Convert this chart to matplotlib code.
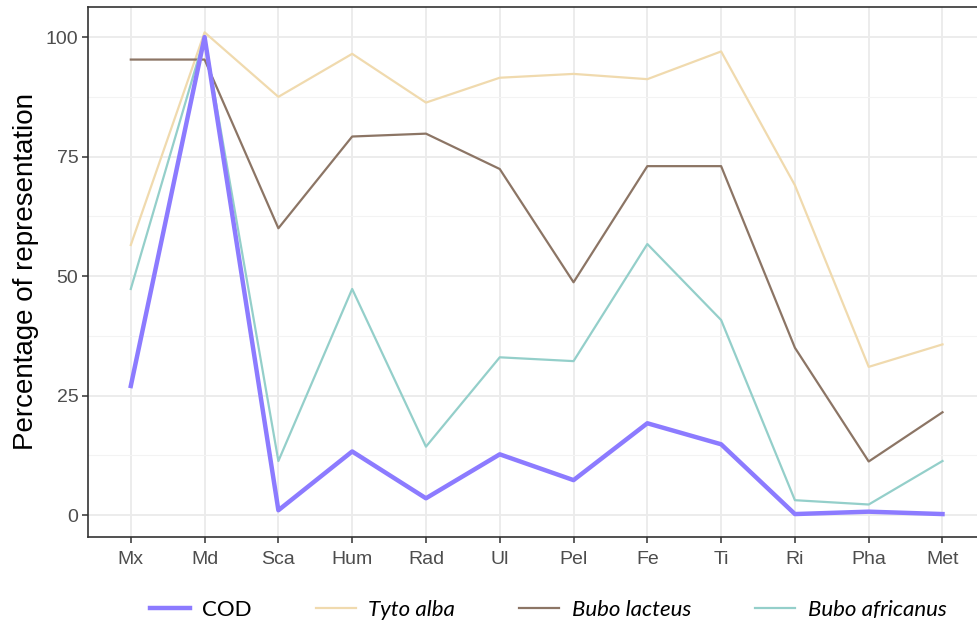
import matplotlib
matplotlib.use("Agg")
import matplotlib.pyplot as plt
from matplotlib.lines import Line2D

categories = ["Mx", "Md", "Sca", "Hum", "Rad", "Ul", "Pel", "Fe", "Ti", "Ri", "Pha", "Met"]
cod = [27.0, 100.0, 1.0, 13.3, 3.5, 12.7, 7.3, 19.2, 14.8, 0.2, 0.7, 0.2]
tyto_alba = [56.5, 101.0, 87.5, 96.5, 86.3, 91.5, 92.3, 91.2, 97.0, 69.0, 31.0, 35.7]
bubo_lacteus = [95.3, 95.3, 60.0, 79.2, 79.8, 72.4, 48.7, 73.0, 73.0, 35.0, 11.2, 21.5]
bubo_africanus = [47.3, 100.0, 11.3, 47.3, 14.3, 33.0, 32.2, 56.7, 40.8, 3.1, 2.2, 11.3]
y_ticks = [0, 25, 50, 75, 100]

c_cod = "#8C7BFF"
c_tyto = "#F0DAAE"
c_lact = "#8C7565"
c_afr = "#94CFCA"

plt.rcParams["font.family"] = ["Liberation Sans", "DejaVu Sans"]

W, H = 977, 625
fig = plt.figure(figsize=(W / 100, H / 100), dpi=100)
ax = fig.add_axes([88 / W, (H - 537) / H, 1 - 88 / W + 0.01, (537 - 7) / H])

x = list(range(len(categories)))
ax.plot(x, tyto_alba, color=c_tyto, lw=1.6, zorder=3)
ax.plot(x, bubo_lacteus, color=c_lact, lw=1.6, zorder=3)
ax.plot(x, bubo_africanus, color=c_afr, lw=1.6, zorder=3)
ax.plot(x, cod, color=c_cod, lw=3.2, zorder=4)

ax.set_xlim(-0.58, 11.6)
ax.set_ylim(-4.6, 106.3)
ax.set_xticks(x)
ax.set_xticklabels(categories)
ax.set_yticks(y_ticks)
ax.set_yticks([12.5, 37.5, 62.5, 87.5], minor=True)

ax.grid(True, which="major", color="#EBEBEB", lw=1.3, zorder=0)
ax.grid(True, which="minor", axis="y", color="#F3F3F3", lw=0.8, zorder=0)
ax.set_axisbelow(True)
for s in ax.spines.values():
    s.set_color("#333333")
    s.set_linewidth(1.2)
ax.spines["right"].set_visible(False)
ax.tick_params(axis="both", which="major", length=4, width=1.1, color="#333333",
               labelcolor="#4D4D4D", labelsize=14)
ax.tick_params(axis="x", which="major", pad=6)
ax.tick_params(axis="y", which="major", pad=3)
ax.tick_params(axis="both", which="minor", length=0)

ax.set_ylabel("Percentage of representation", fontsize=20, color="black", labelpad=5)

handles = [Line2D([], [], color=c_cod, lw=3.2),
           Line2D([], [], color=c_tyto, lw=1.6),
           Line2D([], [], color=c_lact, lw=1.6),
           Line2D([], [], color=c_afr, lw=1.6)]
labels = ["COD", "Tyto alba", "Bubo lacteus", "Bubo africanus"]
leg = fig.legend(handles, labels, loc="center", bbox_to_anchor=(548 / W, 1 - 610 / H),
                 ncol=4, frameon=False, handlelength=1.8, handletextpad=0.55,
                 columnspacing=2.9, prop={"family": ["Lato", "DejaVu Sans"], "size": 16})
for i, t in enumerate(leg.get_texts()):
    if i > 0:
        t.set_style("italic")

fig.savefig("out.png", dpi=100)
